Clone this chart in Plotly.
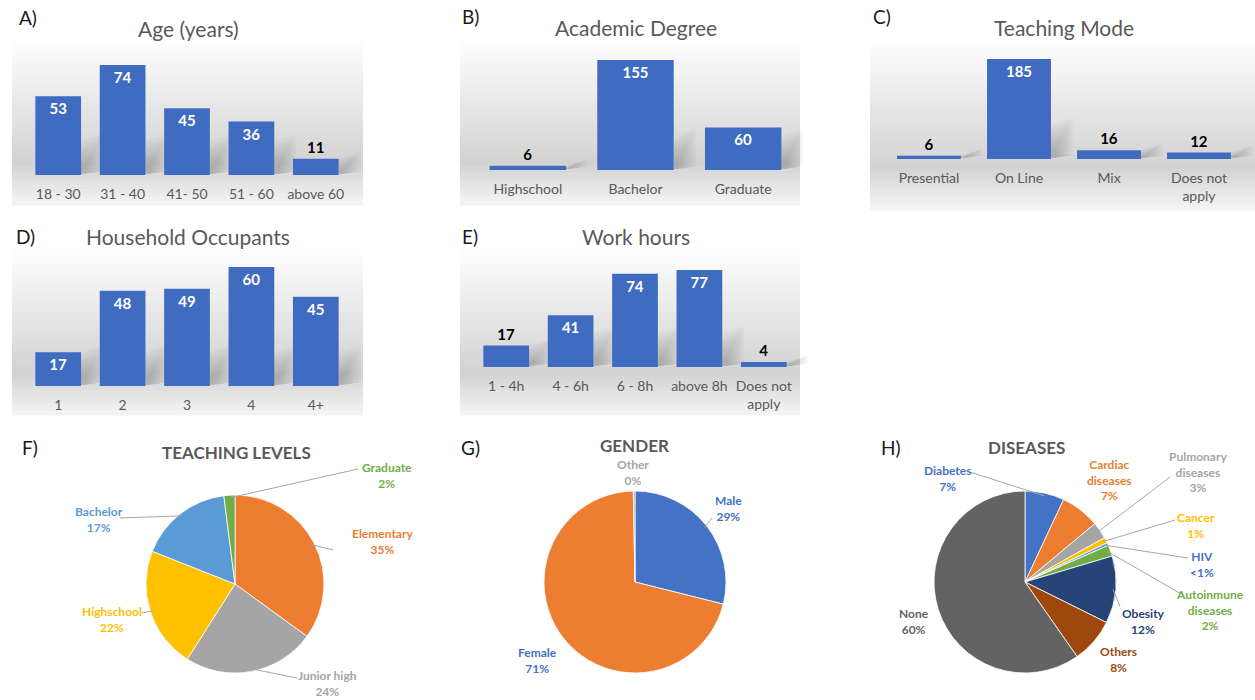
import math
import plotly.graph_objects as go

W, H = 1255, 700

# ---------------- data ----------------
age_cats = ["18 - 30", "31 - 40", "41- 50", "51 - 60", "above 60"]
age_vals = [53, 74, 45, 36, 11]
degree_cats = ["Highschool", "Bachelor", "Graduate"]
degree_vals = [6, 155, 60]
mode_cats = ["Presential", "On Line", "Mix", "Does not apply"]
mode_vals = [6, 185, 16, 12]
house_cats = ["1", "2", "3", "4", "4+"]
house_vals = [17, 48, 49, 60, 45]
hours_cats = ["1 - 4h", "4 - 6h", "6 - 8h", "above 8h", "Does not apply"]
hours_vals = [17, 41, 74, 77, 4]

level_labels = ["Elementary", "Junior high", "Highschool", "Bachelor", "Graduate"]
level_pct = [35, 24, 22, 17, 2]
gender_labels = ["Male", "Female", "Other"]
gender_pct = [29, 71, 0.3]
disease_labels = ["Diabetes", "Cardiac diseases", "Pulmonary diseases", "Cancer", "HIV",
                  "Autoinmune diseases", "Obesity", "Others", "None"]
disease_pct = [7, 7, 3, 1, 0.5, 2, 12, 8, 60]

# ---------------- style ----------------
FONT = "Lato"
BAR_COLOR = "#3F6BC1"
GREY_TXT = "#595959"
BARGAP = 0.29
level_colors = ["#ED7D31", "#A5A5A5", "#FFC000", "#5B9BD5", "#70AD47"]
gender_colors = ["#4472C4", "#ED7D31", "#A5A5A5"]
gender_txt = ["#4472C4", "#4472C4", "#A5A5A5"]
disease_colors = ["#4472C4", "#ED7D31", "#A5A5A5", "#FFC000", "#5B9BD5",
                  "#70AD47", "#264478", "#9E480E", "#636363"]
disease_txt = ["#4472C4", "#ED7D31", "#A5A5A5", "#FFC000", "#4472C4",
               "#70AD47", "#264478", "#9E480E", "#636363"]


def px(x):
    return x / W


def py(y):
    return 1 - y / H


def wrap(s):
    return s.replace("Does not apply", "Does not<br>apply").replace(" diseases", "<br>diseases")


fig = go.Figure()
shapes = []
annotations = []

# bar panels: cats, vals, title, letter, plot x0,x1, plot top, baseline, ymax scale, bg rect, title pos, letter pos
bar_panels = [
    (age_cats, age_vals, "Age (years)", "A)", 26, 348, 45, 175, 87.5 / 74,
     (12, 15, 363, 205), (188, 28), (28, 18)),
    (degree_cats, degree_vals, "Academic Degree", "B)", 474, 797, 45, 170, 176 / 155,
     (460, 15, 800, 205), (636, 27), (470, 17)),
    (mode_cats, mode_vals, "Teaching Mode", "C)", 884, 1244, 45, 159, 211 / 185,
     (870, 15, 1255, 210), (1064, 27), (882, 17)),
    (house_cats, house_vals, "Household Occupants", "D)", 26, 348, 255, 386, 66 / 60,
     (12, 225, 363, 415), (188, 237), (25, 237)),
    (hours_cats, hours_vals, "Work hours", "E)", 474, 796, 255, 367, 88.9 / 77,
     (460, 225, 800, 415), (636, 237), (470, 237)),
]


def bg_color(t):
    if t < 0.12:
        v = 255
    elif t < 0.78:
        v = 255 - (255 - 210) * (t - 0.12) / 0.66
    else:
        v = 210 + (245 - 210) * (t - 0.78) / 0.22
    v = int(round(v))
    return f"rgb({v},{v},{v})"


layout_axes = {}
for i, (cats, vals, title, letter, x0, x1, ytop, ybase, k, bg, tpos, lpos) in enumerate(bar_panels):
    n = i + 1
    xa = "x" if n == 1 else f"x{n}"
    ya = "y" if n == 1 else f"y{n}"
    vmax = max(vals)
    ymax = vmax * k
    positions = ["inside" if v / vmax > 0.25 else "outside" for v in vals]
    fig.add_trace(go.Bar(
        x=cats, y=vals, xaxis=xa, yaxis=ya,
        marker=dict(color=BAR_COLOR, line=dict(width=0)),
        text=[f"<b>{v}</b>" for v in vals], textposition=positions,
        insidetextanchor="end",
        insidetextfont=dict(color="white", size=15, family=FONT),
        outsidetextfont=dict(color="black", size=15, family=FONT),
        constraintext="none", cliponaxis=False, showlegend=False,
        hoverinfo="x+y",
    ))
    layout_axes[("xaxis" if n == 1 else f"xaxis{n}")] = dict(
        domain=[px(x0), px(x1)], anchor=ya, showgrid=False, zeroline=False,
        showline=False, ticks="outside", ticklen=6, tickcolor="rgba(0,0,0,0)",
        tickvals=cats, ticktext=[wrap(c) for c in cats],
        tickfont=dict(family=FONT, size=14, color=GREY_TXT), fixedrange=True,
    )
    layout_axes[("yaxis" if n == 1 else f"yaxis{n}")] = dict(
        domain=[py(ybase), py(ytop)], anchor=xa, range=[0, ymax],
        showgrid=False, zeroline=False, showline=False, showticklabels=False,
        fixedrange=True,
    )
    # gradient background
    bx0, by0, bx1, by1 = bg
    nb = 48
    for j in range(nb):
        ya0 = by0 + (by1 - by0) * j / nb
        ya1 = by0 + (by1 - by0) * (j + 1) / nb + 0.6
        shapes.append(dict(type="rect", xref="paper", yref="paper", layer="below",
                           x0=px(bx0), x1=px(bx1), y0=py(ya1), y1=py(ya0),
                           fillcolor=bg_color((j + 0.5) / nb), line=dict(width=0)))
    # soft diagonal shadows behind the bars (derived from bar geometry)
    step = (x1 - x0) / len(cats)
    hw = (1 - BARGAP) / 2 * step
    pxu = (ybase - ytop) / ymax
    nl = 10
    for idx, v in enumerate(vals):
        right = x0 + (idx + 0.5) * step + hw
        hpx = v * pxu
        for li in range(nl):
            sc = 1.0 - 0.75 * li / (nl - 1)
            hs = min(hpx, 34) * sc
            dx, dy = 22 * sc, 12 * sc
            path = (f"M {px(right)} {py(ybase - 1)} L {px(right)} {py(ybase - hs)} "
                    f"L {px(right + dx)} {py(ybase - hs - dy * 0.6)} L {px(right + dx)} {py(ybase - dy * 0.3)} Z")
            shapes.append(dict(type="path", path=path, xref="paper", yref="paper", layer="below",
                               fillcolor="rgba(60,60,60,0.024)", line=dict(width=0)))
    annotations.append(dict(text=title, x=px(tpos[0]), y=py(tpos[1]), xref="paper", yref="paper",
                            showarrow=False, xanchor="center", yanchor="middle",
                            font=dict(family=FONT, size=21, color=GREY_TXT)))
    annotations.append(dict(text=letter, x=px(lpos[0]), y=py(lpos[1]), xref="paper", yref="paper",
                            showarrow=False, xanchor="center", yanchor="middle",
                            font=dict(family=FONT, size=19, color="#1a1a1a")))

# ---------------- pies ----------------
def pct_text(v):
    if 0.5 <= v < 1:
        return "<1%"
    return f"{round(v)}%"


pie_panels = [
    (level_labels, level_pct, level_colors, level_colors, (235, 584), 89, "TEACHING LEVELS", (236, 452), "F)", (30, 447),
     {"Elementary": (382, 541, 333, 550), "Junior high": (327, 683, 297, 678),
      "Highschool": (112, 619, 142, 613), "Bachelor": (99, 519, 120, 518),
      "Graduate": (387, 475, 358, 469)}),
    (gender_labels, gender_pct, gender_colors, gender_txt, (635, 582), 91, "GENDER", (634, 445), "G)", (470, 447),
     {"Male": (728, 509, 712, 518), "Female": (537, 660, None, None), "Other": (633, 472, None, None)}),
    (disease_labels, disease_pct, disease_colors, disease_txt, (1025, 582), 91, "DISEASES", (1026, 447), "H)", (891, 447),
     {"Diabetes": (947, 478, 970, 472), "Cardiac diseases": (1109, 480, None, None),
      "Pulmonary diseases": (1198, 472, 1170, 477), "Cancer": (1196, 525, 1175, 520),
      "HIV": (1202, 564, 1188, 558), "Autoinmune diseases": (1210, 610, 1183, 595),
      "Obesity": (1143, 621, 1120, 606), "Others": (1118, 659, None, None),
      "None": (914, 621, None, None)}),
]

for labels, vals, cols, tcols, (cx, cy), r, title, tpos, letter, lpos, lab in pie_panels:
    fig.add_trace(go.Pie(
        labels=labels, values=vals, sort=False, direction="clockwise", rotation=0,
        marker=dict(colors=cols, line=dict(color="white", width=0.8)),
        textinfo="none", showlegend=False, hoverinfo="label+percent",
        domain=dict(x=[px(cx - r), px(cx + r)], y=[py(cy + r), py(cy - r)]),
    ))
    tot = sum(vals)
    cum = 0
    for name, v, tc in zip(labels, vals, tcols):
        mid = 2 * math.pi * (cum + v / 2) / tot
        cum += v
        ex, ey = cx + r * 0.97 * math.sin(mid), cy - r * 0.97 * math.cos(mid)
        tx, ty, lx, ly = lab[name]
        if lx is not None:
            shapes.append(dict(type="line", xref="paper", yref="paper",
                               x0=px(ex), y0=py(ey), x1=px(lx), y1=py(ly),
                               line=dict(color="#A6A6A6", width=1)))
        annotations.append(dict(text=f"<b>{wrap(name)}<br>{pct_text(v)}</b>", x=px(tx), y=py(ty),
                                xref="paper", yref="paper", showarrow=False,
                                xanchor="center", yanchor="middle", align="center",
                                font=dict(family=FONT, size=12, color=tc)))
    annotations.append(dict(text=f"<b>{title}</b>", x=px(tpos[0]), y=py(tpos[1]), xref="paper", yref="paper",
                            showarrow=False, xanchor="center", yanchor="middle",
                            font=dict(family=FONT, size=17, color=GREY_TXT)))
    annotations.append(dict(text=letter, x=px(lpos[0]), y=py(lpos[1]), xref="paper", yref="paper",
                            showarrow=False, xanchor="center", yanchor="middle",
                            font=dict(family=FONT, size=19, color="#1a1a1a")))

fig.update_layout(
    width=W, height=H, margin=dict(l=0, r=0, t=0, b=0),
    paper_bgcolor="white", plot_bgcolor="rgba(0,0,0,0)",
    bargap=BARGAP, shapes=shapes, annotations=annotations,
    font=dict(family=FONT), **layout_axes,
)

fig.write_html("out.html")
